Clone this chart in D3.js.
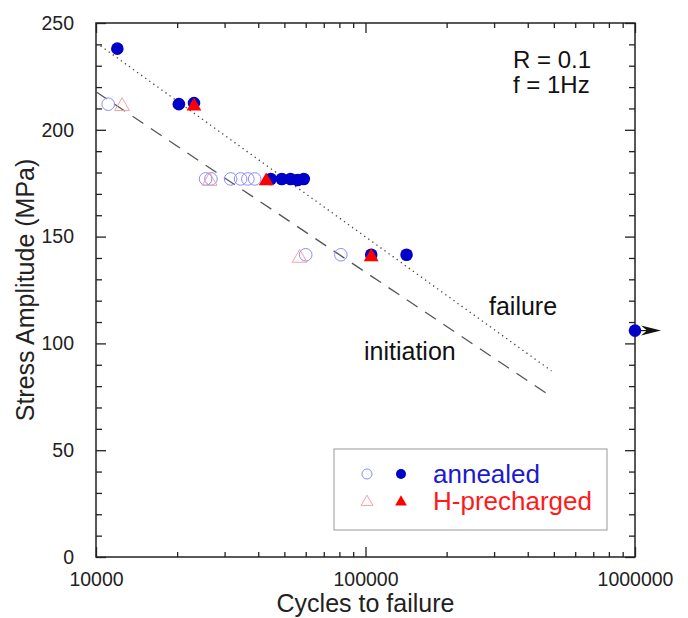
<!DOCTYPE html>
<html>
  <head>
    <meta charset="UTF-8">
    <title>S-N curve</title>
    <style>
    body {
      margin: 0;
      background-color: white;
    }
    text {
      font-family: 'Liberation Sans', Arial, Helvetica, sans-serif;
    }
    </style>
  </head>
  <body>
  <script src="https://d3js.org/d3.v7.min.js"></script>
  <script>
  // Data: [cycles, stress amplitude in MPa]
  var annealedFailure = [[12000, 238], [20300, 212], [23100, 212.5], [44500, 177], [48900, 177],
    [52700, 177], [56000, 176.5], [59000, 177], [105000, 141.5], [142000, 141.5], [1000000, 106]];
  var annealedInitiation = [[11100, 212], [25500, 177], [26700, 177], [31600, 177], [34400, 177],
    [36600, 177], [38800, 177], [60000, 141.5], [81000, 141.5]];
  var hInitiation = [[12500, 211], [26400, 176], [57000, 140]];
  var hFailure = [[23100, 211], [42800, 176], [105000, 140.5]];
  // Fitted lines (end points)
  var failureLine = [[10400, 239.3], [490000, 87.1]];
  var initiationLine = [[10000, 217.8], [488000, 75.2]];
  // Runout point (arrow)
  var runout = [1000000, 106];

  var xMajor = [10000, 100000, 1000000];
  var yMajor = [0, 50, 100, 150, 200, 250];

  var width = 688, height = 618;
  var plotLeft = 96, plotRight = 635, plotTop = 23, plotBottom = 557;

  var svg = d3.select('body').append('svg').attr('width', width).attr('height', height);

  var x = d3.scaleLog().domain([10000, 1000000]).range([plotLeft, plotRight]);
  var y = d3.scaleLinear().domain([0, 250]).range([plotBottom, plotTop]);

  // minor ticks
  var xMinor = [];
  [10000, 100000].forEach(function (d) {
    for (var i = 2; i < 10; i++) xMinor.push(d * i);
  });
  var yMinor = d3.range(0, 251, 10).filter(function (d) { return d % 50 !== 0; });

  function styleAxis(g) {
    g.select('.domain').remove();
    g.selectAll('line').attr('stroke', '#222').attr('stroke-width', 1.3);
    g.selectAll('text').attr('fill', '#222').style('font-size', '19.5px')
      .style('font-family', "'Liberation Sans', Arial, sans-serif");
  }

  // bottom
  svg.append('g').attr('transform', 'translate(0,' + plotBottom + ')')
    .call(d3.axisBottom(x).tickValues(xMajor).tickSize(-10).tickPadding(15).tickFormat(d3.format('d')))
    .call(styleAxis);
  svg.append('g').attr('transform', 'translate(0,' + plotBottom + ')')
    .call(d3.axisBottom(x).tickValues(xMinor).tickSize(-5).tickFormat(''))
    .call(styleAxis);
  // top
  svg.append('g').attr('transform', 'translate(0,' + plotTop + ')')
    .call(d3.axisTop(x).tickValues(xMajor).tickSize(-10).tickFormat(''))
    .call(styleAxis);
  svg.append('g').attr('transform', 'translate(0,' + plotTop + ')')
    .call(d3.axisTop(x).tickValues(xMinor).tickSize(-5).tickFormat(''))
    .call(styleAxis);
  // left
  svg.append('g').attr('transform', 'translate(' + plotLeft + ',0)')
    .call(d3.axisLeft(y).tickValues(yMajor).tickSize(-10).tickPadding(22))
    .call(styleAxis);
  svg.append('g').attr('transform', 'translate(' + plotLeft + ',0)')
    .call(d3.axisLeft(y).tickValues(yMinor).tickSize(-6).tickFormat(''))
    .call(styleAxis);
  // right
  svg.append('g').attr('transform', 'translate(' + plotRight + ',0)')
    .call(d3.axisRight(y).tickValues(yMajor).tickSize(-10).tickFormat(''))
    .call(styleAxis);
  svg.append('g').attr('transform', 'translate(' + plotRight + ',0)')
    .call(d3.axisRight(y).tickValues(yMinor).tickSize(-6).tickFormat(''))
    .call(styleAxis);

  // frame
  svg.append('rect')
    .attr('x', plotLeft).attr('y', plotTop)
    .attr('width', plotRight - plotLeft).attr('height', plotBottom - plotTop)
    .attr('fill', 'none').attr('stroke', '#222').attr('stroke-width', 1.5);

  // axis titles
  svg.append('text')
    .attr('x', (plotLeft + plotRight) / 2).attr('y', 612)
    .attr('text-anchor', 'middle').attr('fill', '#222')
    .style('font-size', '25px')
    .text('Cycles to failure');
  svg.append('text')
    .attr('transform', 'translate(34,' + (plotTop + plotBottom) / 2 + ') rotate(-90)')
    .attr('text-anchor', 'middle').attr('fill', '#222')
    .style('font-size', '25px')
    .text('Stress Amplitude (MPa)');

  // fit lines
  var line = d3.line()
    .x(function (d) { return x(d[0]); })
    .y(function (d) { return y(d[1]); });
  svg.append('path').datum(failureLine).attr('d', line)
    .attr('fill', 'none').attr('stroke', '#444').attr('stroke-width', 1.3)
    .attr('stroke-dasharray', '1.3,3.7');
  svg.append('path').datum(initiationLine).attr('d', line)
    .attr('fill', 'none').attr('stroke', '#555').attr('stroke-width', 1.3)
    .attr('stroke-dasharray', '13,9');

  // line labels
  svg.append('text').attr('x', 489).attr('y', 315).attr('fill', '#111')
    .style('font-size', '25px').text('failure');
  svg.append('text').attr('x', 364).attr('y', 360).attr('fill', '#111')
    .style('font-size', '25px').text('initiation');
  svg.append('text').attr('x', 513).attr('y', 68).attr('fill', '#111')
    .style('font-size', '24px').text('R = 0.1');
  svg.append('text').attr('x', 513).attr('y', 93).attr('fill', '#111')
    .style('font-size', '24px').text('f = 1Hz');

  // runout arrow
  var rx = x(runout[0]), ry = y(runout[1]);
  svg.append('line').attr('x1', rx).attr('y1', ry).attr('x2', rx + 14).attr('y2', ry)
    .attr('stroke', '#111').attr('stroke-width', 1.2);
  svg.append('path')
    .attr('d', 'M' + (rx + 6) + ',' + (ry - 5) + 'L' + (rx + 26) + ',' + ry + 'L' + (rx + 6) + ',' + (ry + 5)
      + 'L' + (rx + 12) + ',' + ry + 'Z')
    .attr('fill', '#111');

  // markers
  var blue = '#0000c8', lightBlue = '#8c8cff', red = '#ff0000', lightRed = '#f5a0a0';
  var tri = d3.symbol().type(d3.symbolTriangle).size(95);
  var triSmall = d3.symbol().type(d3.symbolTriangle).size(60);

  svg.append('g').selectAll('circle').data(annealedInitiation).enter().append('circle')
    .attr('cx', function (d) { return x(d[0]); })
    .attr('cy', function (d) { return y(d[1]); })
    .attr('r', 6.3).attr('fill', 'none').attr('stroke', lightBlue).attr('stroke-width', 1);

  svg.append('g').selectAll('path').data(hInitiation).enter().append('path')
    .attr('d', tri)
    .attr('transform', function (d) { return 'translate(' + x(d[0]) + ',' + y(d[1]) + ')'; })
    .attr('fill', 'none').attr('stroke', lightRed).attr('stroke-width', 1);

  svg.append('g').selectAll('circle').data(annealedFailure).enter().append('circle')
    .attr('cx', function (d) { return x(d[0]); })
    .attr('cy', function (d) { return y(d[1]); })
    .attr('r', 6.3).attr('fill', blue);

  svg.append('g').selectAll('path').data(hFailure).enter().append('path')
    .attr('d', tri)
    .attr('transform', function (d) { return 'translate(' + x(d[0]) + ',' + y(d[1]) + ')'; })
    .attr('fill', red);

  // legend
  var legend = svg.append('g');
  legend.append('rect').attr('x', 334).attr('y', 449).attr('width', 273).attr('height', 81)
    .attr('fill', 'white').attr('stroke', '#aaa').attr('stroke-width', 1.2);
  legend.append('circle').attr('cx', 367).attr('cy', 474).attr('r', 5)
    .attr('fill', 'none').attr('stroke', lightBlue).attr('stroke-width', 1);
  legend.append('circle').attr('cx', 401).attr('cy', 474).attr('r', 5).attr('fill', blue);
  legend.append('path').attr('d', triSmall).attr('transform', 'translate(367,502)')
    .attr('fill', 'none').attr('stroke', lightRed).attr('stroke-width', 1);
  legend.append('path').attr('d', triSmall).attr('transform', 'translate(401,502)')
    .attr('fill', red);
  legend.append('text').attr('x', 433).attr('y', 483).attr('fill', '#1a1ad2')
    .style('font-size', '26px').text('annealed');
  legend.append('text').attr('x', 433).attr('y', 510).attr('fill', '#ff1a1a')
    .style('font-size', '26px').text('H-precharged');
  </script>
  </body>
</html>
